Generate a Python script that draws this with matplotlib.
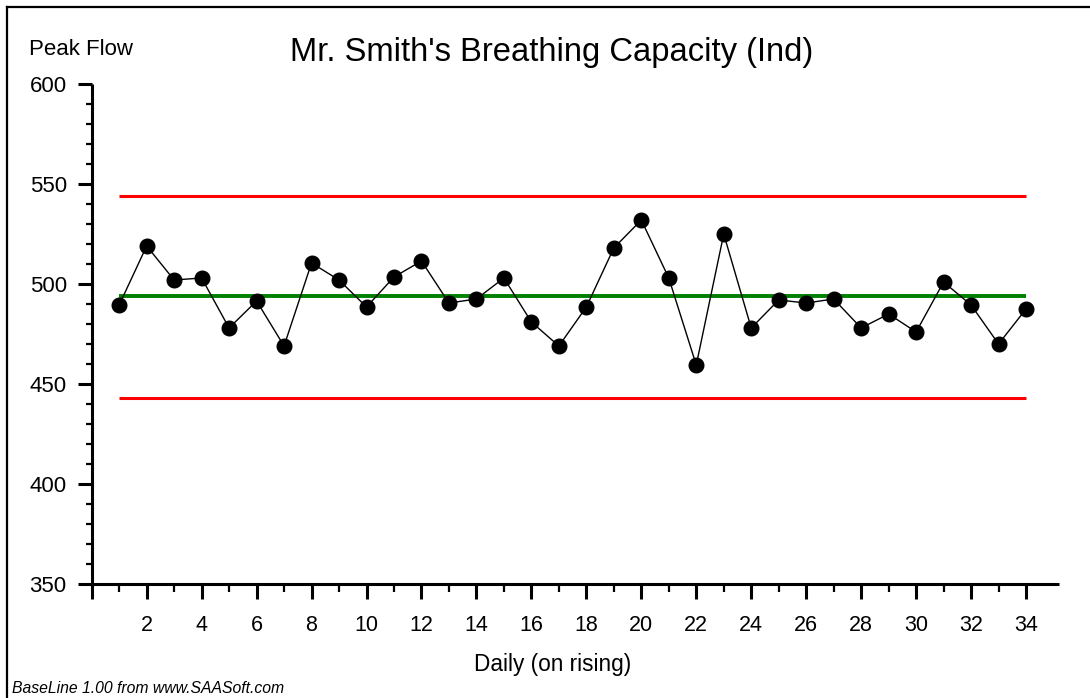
import matplotlib
matplotlib.use("Agg")
import matplotlib.pyplot as plt
from matplotlib.lines import Line2D
from matplotlib.ticker import FixedLocator, FuncFormatter

# ---- data ----
days = list(range(1, 35))
peak_flow = [489.5, 519, 502, 503, 478, 491.5, 469, 510.5, 502, 488.5, 503.5,
             511.5, 490.5, 492.5, 503, 481, 469, 488.5, 518, 532, 503, 459.5,
             525, 478, 492, 490.5, 492.5, 478, 485, 476, 501, 489.5, 470, 487.5]
center_line = 494
ucl = 544
lcl = 443
title = "Mr. Smith's Breathing Capacity (Ind)"
y_label = "Peak Flow"
x_label = "Daily (on rising)"
footer = "BaseLine 1.00 from www.SAASoft.com"

plt.rcParams['font.family'] = ['Liberation Sans', 'DejaVu Sans']

W, H = 1090, 698
fig = plt.figure(figsize=(W / 100, H / 100), dpi=100)
fig.patch.set_facecolor('white')

x0, x1 = 91.7, 1059
y_top, y_bot = 84, 584
ax = fig.add_axes([x0 / W, (H - y_bot) / H, (x1 - x0) / W, (y_bot - y_top) / H])
ax.set_xlim(0, 35.2)
ax.set_ylim(350, 600)

# control lines
ax.plot([days[0], days[-1]], [ucl, ucl], color='#ff0000', lw=2.2, solid_capstyle='butt', zorder=2)
ax.plot([days[0], days[-1]], [lcl, lcl], color='#ff0000', lw=2.2, solid_capstyle='butt', zorder=2)
ax.plot([days[0], days[-1]], [center_line, center_line], color='#008000', lw=2.8, solid_capstyle='butt', zorder=2)

# data
ax.plot(days, peak_flow, color='black', lw=1.0, zorder=3)
ax.plot(days, peak_flow, 'o', color='black', ms=10.5, zorder=4)

# spines
for s in ['top', 'right']:
    ax.spines[s].set_visible(False)
for s in ['left', 'bottom']:
    ax.spines[s].set_linewidth(2.2)
    ax.spines[s].set_capstyle('butt')

# ticks
ax.xaxis.set_major_locator(FixedLocator(list(range(0, 35, 2))))
ax.xaxis.set_minor_locator(FixedLocator(list(range(1, 35, 2))))
ax.xaxis.set_major_formatter(FuncFormatter(lambda v, p: '' if v == 0 else f"{int(v)}"))
ax.yaxis.set_major_locator(FixedLocator([350, 400, 450, 500, 550, 600]))
ax.yaxis.set_minor_locator(FixedLocator([v for v in range(360, 600, 10) if v % 50]))

ax.tick_params(axis='x', which='major', direction='out', length=11, width=2.2, labelsize=15.5, pad=11)
ax.tick_params(axis='x', which='minor', direction='out', length=5.5, width=1.6)
ax.tick_params(axis='y', which='major', direction='out', length=10, width=2.2, labelsize=16, pad=8)
ax.tick_params(axis='y', which='minor', direction='out', length=4.5, width=1.6)

# texts
fig.text(552 / W, 1 - 61 / H, title, ha='center', va='baseline', fontsize=23.6)
fig.text(29 / W, 1 - 55 / H, y_label, ha='left', va='baseline', fontsize=16)
fig.text(553 / W, 1 - 671 / H, x_label, ha='center', va='baseline', fontsize=16.3)
fig.text(12 / W, 1 - 693 / H, footer, ha='left', va='baseline', fontsize=11.3, style='italic')

# frame
fig.add_artist(Line2D([7 / W, 7 / W], [0, 1 - 7 / H], transform=fig.transFigure, color='black', lw=1.6))
fig.add_artist(Line2D([7 / W, 1], [1 - 7 / H, 1 - 7 / H], transform=fig.transFigure, color='black', lw=1.6))

fig.savefig('out.png', dpi=100)
